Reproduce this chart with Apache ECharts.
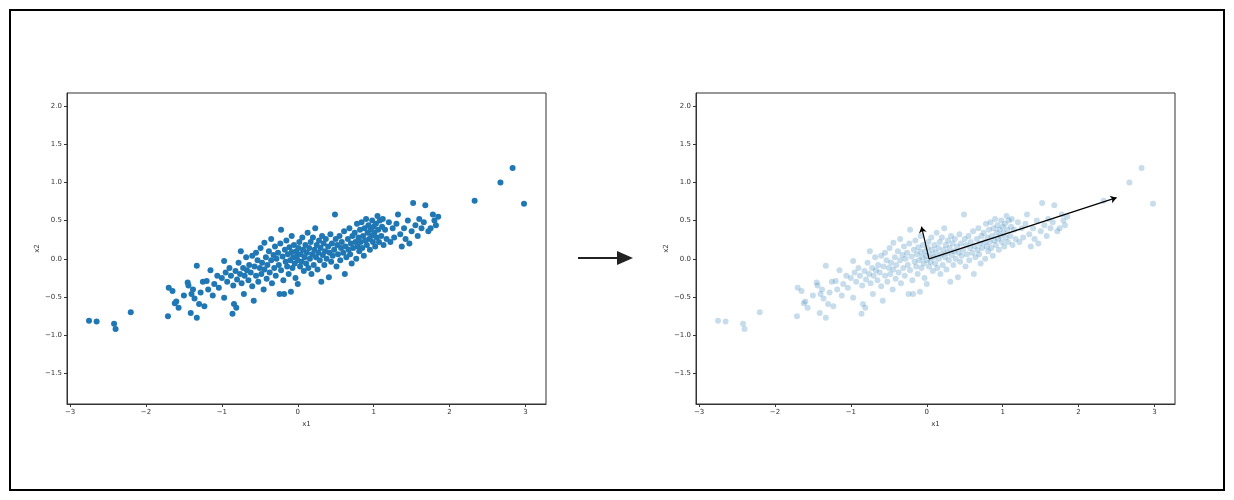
<!DOCTYPE html>
<html><head><meta charset="utf-8">
<script src="https://cdn.jsdelivr.net/npm/echarts@6/dist/echarts.min.js"></script>
<style>html,body{margin:0;background:#fff}#c{width:1234px;height:500px}</style>
</head><body><div id="c"></div>
<script>
const xTicks = [-3,-2,-1,0,1,2,3];
const yTicks = [-1.5,-1.0,-0.5,0.0,0.5,1.0,1.5,2.0];
const points = [
[-2.75,-0.81],[-2.65,-0.82],[-2.42,-0.85],[-2.4,-0.92],[-2.2,-0.7],
[-1.71,-0.75],[-1.70,-0.38],[-1.65,-0.42],[-1.62,-0.58],[-1.60,-0.56],[-1.57,-0.64],[-1.5,-0.48],[-1.45,-0.31],[-1.44,-0.35],[-1.41,-0.71],
[-1.40,-0.46],[-1.38,-0.40],[-1.36,-0.52],[-1.33,-0.77],[-1.33,-0.09],[-1.30,-0.59],[-1.28,-0.44],[-1.25,-0.30],[-1.23,-0.62],[-1.2,-0.29],
[-1.18,-0.40],[-1.15,-0.15],[-1.12,-0.48],[-1.10,-0.33],[-1.06,-0.22],[-1.04,-0.38],[-1.0,-0.25],[-0.97,-0.03],[-0.97,-0.51],[-0.95,-0.18],
[-0.93,-0.30],[-0.90,-0.12],[-0.88,-0.22],[-0.86,-0.72],[-0.85,-0.35],[-0.84,-0.59],[-0.82,-0.16],[-0.81,-0.64],[-0.80,-0.27],[-0.78,-0.05],
[-0.76,-0.20],[-0.75,0.10],[-0.74,-0.32],[-0.72,-0.12],[-0.71,-0.46],[-0.70,-0.22],[-0.68,0.02],[-0.67,-0.15],[-0.65,-0.28],[-0.64,-0.08],
[-0.62,-0.18],[-0.60,-0.36],[-0.60,0.04],[-0.58,-0.55],[-0.57,-0.10],[-0.55,0.08],[-0.55,-0.22],[-0.53,-0.02],[-0.52,-0.30],[-0.50,-0.12],
[-0.49,0.14],[-0.48,-0.20],[-0.47,-0.05],[-0.45,-0.40],[-0.44,0.21],[-0.44,-0.14],[-0.42,0.02],[-0.41,-0.26],[-0.40,-0.08],[-0.38,0.10],
[-0.37,-0.18],[-0.35,0.26],[-0.35,-0.02],[-0.34,-0.32],[-0.32,0.05],[-0.31,-0.12],[-0.30,0.16],[-0.29,-0.22],[-0.28,0.00],[-0.26,0.08],
[-0.25,-0.08],[-0.24,-0.46],[-0.23,0.20],[-0.22,0.38],[-0.22,-0.15],[-0.20,0.03],[-0.19,-0.28],[-0.18,-0.46],[-0.17,0.12],[-0.16,-0.04],
[-0.15,0.24],[-0.14,-0.10],[-0.13,0.06],[-0.12,-0.20],[-0.11,0.15],[-0.10,-0.02],[-0.09,-0.43],[-0.08,0.30],[-0.08,0.09],[-0.07,-0.12],
[-0.06,0.02],[-0.05,0.18],[-0.04,-0.06],[-0.03,-0.25],[-0.02,0.10],[-0.01,0.04],[0.0,-0.33],[0.0,-0.02],[0.01,0.14],[0.02,0.22],
[0.03,-0.10],[0.04,0.06],[0.05,-0.04],[0.06,0.28],[0.07,0.12],[0.08,-0.16],[0.09,0.02],[0.10,0.18],[0.11,-0.06],[0.12,0.08],
[0.13,0.34],[0.14,-0.12],[0.15,0.14],[0.16,0.00],[0.17,0.22],[0.18,-0.20],[0.19,0.06],[0.20,0.28],[0.21,-0.08],[0.22,0.12],
[0.23,0.40],[0.24,0.02],[0.25,0.18],[0.26,-0.14],[0.27,0.08],[0.28,0.24],[0.29,-0.02],[0.30,0.14],[0.31,-0.30],[0.32,0.30],
[0.33,0.05],[0.34,0.20],[0.35,-0.08],[0.36,0.10],[0.37,0.26],[0.38,0.00],[0.40,0.16],[0.41,-0.24],[0.42,0.08],[0.43,0.32],
[0.44,-0.04],[0.45,0.20],[0.46,0.04],[0.48,0.12],[0.49,0.58],[0.50,0.26],[0.51,-0.10],[0.52,0.18],[0.53,0.06],[0.55,0.30],
[0.56,-0.02],[0.57,0.14],[0.58,0.22],[0.60,0.08],[0.61,0.36],[0.62,-0.20],[0.63,0.16],[0.64,0.02],[0.66,0.26],[0.67,0.12],
[0.68,0.40],[0.69,0.06],[0.70,0.20],[0.71,-0.06],[0.72,0.30],[0.73,0.14],[0.75,0.34],[0.76,0.22],[0.77,0.00],[0.78,0.46],
[0.79,0.16],[0.80,0.28],[0.81,0.10],[0.82,0.38],[0.83,0.22],[0.84,0.48],[0.85,0.14],[0.86,0.30],[0.87,0.04],[0.88,0.40],
[0.89,0.24],[0.90,0.52],[0.91,0.18],[0.92,0.34],[0.93,0.44],[0.94,0.26],[0.95,0.12],[0.96,0.38],[0.97,0.30],[0.98,0.50],
[0.99,0.22],[1.00,0.42],[1.01,0.34],[1.02,0.16],[1.03,0.46],[1.04,0.28],[1.05,0.56],[1.06,0.38],[1.07,0.22],[1.08,0.50],
[1.10,0.30],[1.11,0.42],[1.12,0.52],[1.13,0.18],[1.15,0.38],[1.17,0.26],[1.20,0.48],[1.22,0.22],[1.25,0.40],[1.27,0.28],
[1.30,0.46],[1.32,0.58],[1.35,0.32],[1.37,0.16],[1.40,0.40],[1.42,0.26],[1.45,0.50],[1.47,0.20],[1.50,0.36],[1.52,0.73],
[1.55,0.44],[1.58,0.30],[1.60,0.52],[1.63,0.40],[1.66,0.48],[1.68,0.70],[1.72,0.36],[1.75,0.40],[1.80,0.50],[1.85,0.55],
[1.82,0.44],[1.78,0.58],
[2.33,0.76],[2.67,1.0],[2.83,1.19],[2.98,0.72]
];
const arrowFrom = [0.03,0.0];
const arrowLong = [2.5,0.8];
const arrowShort = [-0.07,0.42];

const chart = echarts.init(document.getElementById('c'));
const axisCommon = {
  axisLine:{onZero:false,lineStyle:{color:'#333',width:1}},
  axisTick:{show:true,length:3,lineStyle:{color:'#333'}},
  splitLine:{show:false},
  axisLabel:{fontSize:7,color:'#333',fontFamily:'DejaVu Sans',margin:5}
};
function xAxis(i){return Object.assign({},axisCommon,{gridIndex:i,type:'value',min:-3.04,max:3.27,
  name:'x1',nameLocation:'middle',nameGap:14,nameTextStyle:{fontSize:7,color:'#333',fontFamily:'DejaVu Sans'},
  axisTick:Object.assign({},axisCommon.axisTick,{customValues:xTicks}),
  axisLabel:Object.assign({},axisCommon.axisLabel,{customValues:xTicks,formatter:v=>String(v).replace('-','−')})});}
function yAxis(i){return Object.assign({},axisCommon,{gridIndex:i,type:'value',min:-1.9,max:2.17,
  name:'x2',nameLocation:'middle',nameGap:26,nameTextStyle:{fontSize:7,color:'#333',fontFamily:'DejaVu Sans'},
  axisTick:Object.assign({},axisCommon.axisTick,{customValues:yTicks}),
  axisLabel:Object.assign({},axisCommon.axisLabel,{customValues:yTicks,formatter:v=>v.toFixed(1).replace('-','−')})});}
chart.setOption({
  animation:false,
  grid:[{left:67,top:93,width:479,height:311,show:true,borderColor:'#333',borderWidth:1},
        {left:696,top:93,width:479,height:311,show:true,borderColor:'#333',borderWidth:1}],
  xAxis:[xAxis(0),xAxis(1)],
  yAxis:[yAxis(0),yAxis(1)],
  graphic:[
    {type:'rect',shape:{x:10,y:10,width:1214,height:480},style:{fill:'none',stroke:'#000',lineWidth:2}},
    {type:'line',shape:{x1:578,y1:258,x2:620,y2:258},style:{stroke:'#222',lineWidth:2}},
    {type:'polygon',shape:{points:[[617,251],[633,258],[617,265]]},style:{fill:'#222'}}
  ],
  series:[
    {type:'scatter',xAxisIndex:0,yAxisIndex:0,data:points,symbolSize:6,itemStyle:{color:'#1f77b4',opacity:1}},
    {type:'scatter',xAxisIndex:1,yAxisIndex:1,data:points,symbolSize:6,itemStyle:{color:'#1f77b4',opacity:0.25},
     markLine:{silent:true,symbol:['none','arrow'],symbolSize:6,label:{show:false},
       lineStyle:{color:'#000',width:1.2,type:'solid'},
       data:[[{coord:arrowFrom},{coord:arrowLong}],[{coord:arrowFrom},{coord:arrowShort}]]}}
  ]
});
</script></body></html>
